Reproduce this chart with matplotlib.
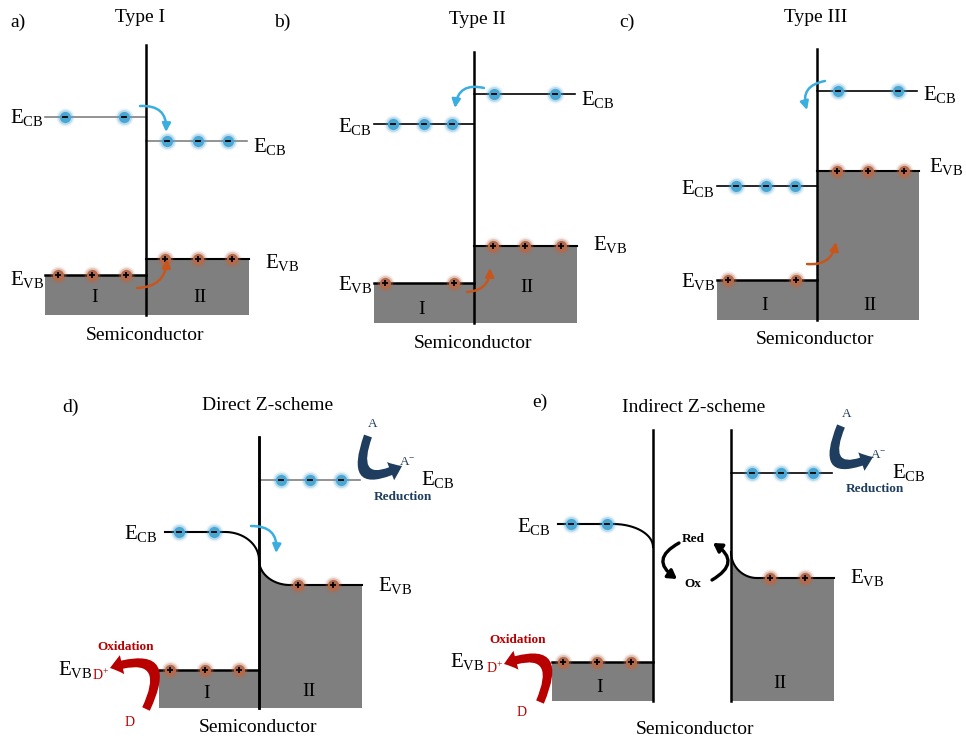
import numpy as np
import matplotlib.pyplot as plt
from matplotlib.patches import FancyArrowPatch, Polygon

plt.rcParams['font.family'] = ['Liberation Serif', 'DejaVu Serif']
plt.rcParams['mathtext.fontset'] = 'custom'
plt.rcParams['mathtext.rm'] = 'Liberation Serif'

# ---- top row: Type I / II / III heterojunctions (pixel rows of band edges) ----
junction_x = [146, 474, 817]
block_left = [45, 374, 717]
block_right = [249, 577, 919]
block_top = [45, 52, 49]
block_bottom = [315, 323, 320]
cb_left = [117, 124, 186]
cb_right = [141, 94, 91]
vb_left = [275, 283, 280]
vb_right = [259, 246, 171]
elec_left = [[65, 124], [393, 424, 452], [736, 766, 795]]
elec_right = [[167, 198, 228], [494, 555], [838, 898]]
hole_left = [[58, 92, 126], [385, 454], [728, 796]]
hole_right = [[165, 198, 232], [493, 525, 561], [837, 868, 904]]
cb_colors = ['#808080', 'black', 'black']

# ---- bottom row: direct / indirect Z-scheme ----
z_left_x = [259, 653]
z_right_x = [259, 731]
z_top = [437, 430]
z_bottom = [708, 701]
z_block_left = [159, 552]
z_block_right = [362, 834]
z_cb_left = [532, 524]
z_cb_bend = [(225, 560), (613, 547)]
z_cb_right = [480, 473]
z_vb_left = [670, 662]
z_vb_bend = [(560, 290), (552, 757)]
z_vb_right = [585, 578]
z_elec_left = [[179, 214], [571, 607]]
z_elec_right = [[281, 310, 341], [752, 781, 813]]
z_hole_left = [[170, 205, 239], [563, 597, 631]]
z_hole_right = [[298, 333], [770, 805]]
z_cb_colors = ['#808080', 'black']

panel_labels = ['a)', 'b)', 'c)', 'd)', 'e)']
panel_label_pos = [(10, 22), (274, 22), (619, 22), (62, 407), (532, 402)]
titles = ['Type I', 'Type II', 'Type III', 'Direct Z-scheme', 'Indirect Z-scheme']
title_pos = [(140, 17), (477, 20), (816, 17), (268, 405), (694, 407)]
semi_pos = [(145, 335), (473, 343), (815, 340), (258, 728), (695, 730)]
roman_pos = [[(95, 298), (200, 297)], [(422, 310), (527, 287)], [(765, 305), (870, 305)],
             [(207, 693), (309, 692)], [(600, 688), (780, 684)]]
ecb_labels = [(10, 123), (253, 152), (338, 132), (581, 105), (681, 194), (923, 100),
              (124, 539), (421, 485), (517, 532), (892, 478)]
evb_labels = [(10, 285), (265, 268), (338, 290), (593, 250), (681, 287), (929, 172),
              (58, 675), (378, 591), (450, 667), (850, 583)]

GRAY = '#7f7f7f'
NAVY = '#1f3d5e'
RED = '#b80000'

fig = plt.figure(figsize=(9.66, 7.40), dpi=100)
ax = fig.add_axes([0, 0, 1, 1])
ax.set_xlim(0, 966)
ax.set_ylim(740, 0)
ax.axis('off')


def particles(xs, y, kind):
    col = '#4aa6d2' if kind == 'e' else '#b4694a'
    ys = [y] * len(xs)
    ax.scatter(xs, ys, s=170, color=col, alpha=0.13, lw=0, zorder=5)
    ax.scatter(xs, ys, s=115, color=col, alpha=0.3, lw=0, zorder=5)
    ax.scatter(xs, ys, s=65, color=col, lw=0, zorder=6)
    ax.scatter(xs, ys, s=24, marker='_' if kind == 'e' else '+', color='black',
               lw=1.3, zorder=7)


def arrow(p0, p1, rad, color, style, lw=0.0):
    ax.add_patch(FancyArrowPatch(p0, p1, connectionstyle=f'arc3,rad={rad}',
                                 arrowstyle=style, color=color, lw=lw,
                                 mutation_scale=1, shrinkA=0, shrinkB=0, zorder=8))


thin_head = '-|>,head_length=5,head_width=2.5'
thick_head = 'simple,head_length=9,head_width=14,tail_width=6'

# top row panels
for i in range(3):
    jx = junction_x[i]
    ax.add_patch(Polygon([(block_left[i], vb_left[i]), (jx, vb_left[i]), (jx, block_bottom[i]),
                          (block_left[i], block_bottom[i])], color=GRAY, lw=0, zorder=1))
    ax.add_patch(Polygon([(jx, vb_right[i]), (block_right[i], vb_right[i]),
                          (block_right[i], block_bottom[i]), (jx, block_bottom[i])],
                         color=GRAY, lw=0, zorder=1))
    ax.plot([jx, jx], [block_top[i], block_bottom[i]], color='black', lw=1.8, zorder=3)
    ax.plot([block_left[i], jx], [cb_left[i], cb_left[i]], color=cb_colors[i], lw=1.2, zorder=2)
    ax.plot([jx, block_right[i] - 2], [cb_right[i], cb_right[i]], color=cb_colors[i], lw=1.2, zorder=2)
    ax.plot([block_left[i], jx], [vb_left[i], vb_left[i]], color='black', lw=1.8, zorder=2)
    ax.plot([jx, block_right[i]], [vb_right[i], vb_right[i]], color='black', lw=1.5, zorder=2)
    particles(elec_left[i], cb_left[i], 'e')
    particles(elec_right[i], cb_right[i], 'e')
    particles(hole_left[i], vb_left[i], 'h')
    particles(hole_right[i], vb_right[i], 'h')

# transfer arrows of the top row
arrow((140, 106), (166, 132), -0.55, '#3aaee0', thin_head, 1.8)
arrow((484, 88), (455, 108), 0.55, '#3aaee0', thin_head, 1.8)
arrow((825, 81), (807, 110), 0.55, '#3aaee0', thin_head, 1.8)
arrow((137, 288), (167, 259), 0.45, '#c8561c', thin_head, 1.8)
arrow((467, 292), (490, 268), 0.45, '#c8561c', thin_head, 1.8)
arrow((807, 264), (836, 242), 0.45, '#c8561c', thin_head, 1.8)

# bottom row panels
t = np.linspace(0, np.pi / 2, 40)
for i in range(2):
    lx, rx = z_left_x[i], z_right_x[i]
    # left semiconductor
    ax.add_patch(Polygon([(z_block_left[i], z_vb_left[i]), (lx, z_vb_left[i]), (lx, z_bottom[i]),
                          (z_block_left[i], z_bottom[i])], color=GRAY, lw=0, zorder=1))
    ax.plot([z_block_left[i], lx], [z_vb_left[i]] * 2, color='black', lw=1.8, zorder=2)
    # bent conduction band of I
    bx, by = z_cb_bend[i]
    cx = bx + (lx - bx) * np.sin(t)
    cy = z_cb_left[i] + (by - z_cb_left[i]) * (1 - np.cos(t))
    ax.plot(np.r_[z_block_left[i] + 6, cx], np.r_[z_cb_left[i], cy], color='black', lw=1.5, zorder=2)
    # bent valence band of II
    vy0, vx1 = z_vb_bend[i]
    vx = rx + (vx1 - rx) * (1 - np.cos(t))
    vy = vy0 + (z_vb_right[i] - vy0) * np.sin(t)
    px = np.r_[vx, z_block_right[i], z_block_right[i], rx]
    py = np.r_[vy, z_vb_right[i], z_bottom[i], z_bottom[i]]
    ax.add_patch(Polygon(np.c_[px, py], color=GRAY, lw=0, zorder=1))
    ax.plot(np.r_[vx, z_block_right[i]], np.r_[vy, z_vb_right[i]], color='black', lw=1.5, zorder=2)
    ax.plot([rx, z_block_right[i] - 2], [z_cb_right[i]] * 2, color=z_cb_colors[i], lw=1.2, zorder=2)
    ax.plot([lx, lx], [z_top[i], z_bottom[i]], color='black', lw=1.8, zorder=3)
    ax.plot([rx, rx], [z_top[i], z_bottom[i]], color='black', lw=1.8, zorder=3)
    particles(z_elec_left[i], z_cb_left[i], 'e')
    particles(z_elec_right[i], z_cb_right[i], 'e')
    particles(z_hole_left[i], z_vb_left[i], 'h')
    particles(z_hole_right[i], z_vb_right[i], 'h')

arrow((251, 526), (276, 553), -0.55, '#3aaee0', thin_head, 1.8)
# reduction / oxidation arrows
arrow((368, 436), (402, 466), 1.25, NAVY, thick_head)
arrow((841, 426), (873, 457), 1.25, NAVY, thick_head)
arrow((146, 709), (110, 668), 1.15, RED, thick_head)
arrow((540, 702), (504, 664), 1.15, RED, thick_head)
# redox mediator cycle
med_head = '-|>,head_length=5,head_width=3'
arrow((679, 543), (677, 579), 0.8, 'black', med_head, 2.4)
arrow((712, 580), (713, 543), 0.8, 'black', med_head, 2.4)

# texts
for lab, (x, y) in zip(panel_labels, panel_label_pos):
    ax.text(x, y, lab, fontsize=14, ha='left', va='center')
for ttl, (x, y) in zip(titles, title_pos):
    ax.text(x, y, ttl, fontsize=14, ha='center', va='center')
for (x, y) in semi_pos:
    ax.text(x, y, 'Semiconductor', fontsize=14, ha='center', va='center')
for pair in roman_pos:
    ax.text(pair[0][0], pair[0][1], 'I', fontsize=14, ha='center', va='center')
    ax.text(pair[1][0], pair[1][1], 'II', fontsize=14, ha='center', va='center')
for (x, y) in ecb_labels:
    ax.text(x, y, r'E$_{\mathregular{CB}}$', fontsize=15, ha='left', va='baseline')
for (x, y) in evb_labels:
    ax.text(x, y, r'E$_{\mathregular{VB}}$', fontsize=15, ha='left', va='baseline')

for (ax_, ay), (amx, amy), (rx_, ry) in [((373, 424), (407, 463), (403, 497)),
                                         ((847, 414), (878, 456), (875, 489))]:
    ax.text(ax_, ay, 'A', fontsize=9.5, color=NAVY, ha='center', va='center')
    ax.text(amx, amy, r'A$^{\mathregular{-}}$', fontsize=9.5, color=NAVY, ha='center', va='center')
    ax.text(rx_, ry, 'Reduction', fontsize=9.5, color=NAVY, fontweight='bold', ha='center', va='center')
for (ox, oy), (dpx, dpy), (dx, dy) in [((126, 647), (92, 680), (130, 722)),
                                       ((518, 640), (486, 673), (522, 713))]:
    ax.text(ox, oy, 'Oxidation', fontsize=9.5, color=RED, fontweight='bold', ha='center', va='center')
    ax.text(dpx, dpy, r'D$^{\mathregular{+}}$', fontsize=10, color=RED, ha='left', va='baseline')
    ax.text(dx, dy, 'D', fontsize=10, color=RED, ha='center', va='center')
ax.text(693, 539, 'Red', fontsize=9.5, fontweight='bold', ha='center', va='center')
ax.text(693, 584, 'Ox', fontsize=9.5, fontweight='bold', ha='center', va='center')

fig.savefig('out.png', dpi=100, facecolor='white')
